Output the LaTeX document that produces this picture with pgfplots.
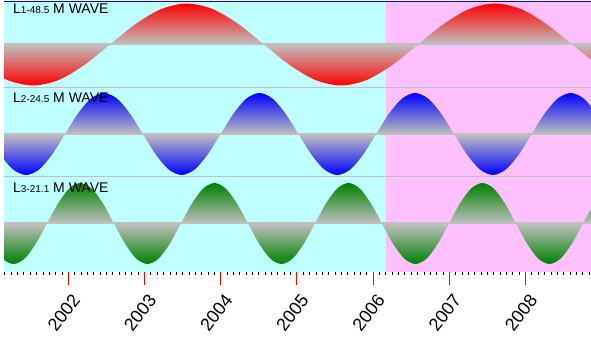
\documentclass[border=0pt]{standalone}
\usepackage{pgfplots}
\pgfplotsset{compat=1.18}
\usepackage{fontspec}
\setmainfont{Liberation Sans}
\definecolor{cyanbg}{RGB}{192,255,255}
\definecolor{pinkbg}{RGB}{255,192,255}
\definecolor{midgray}{RGB}{192,192,192}
\definecolor{dgreen}{RGB}{0,128,0}

\pgfplotsset{
  band/.style={x=76.2pt, y=1pt, xmin=2001.156, xmax=2008.86,
    axis line style={draw=none}, ticks=none, clip=true},
  bgc/.style={draw=none, fill=cyanbg},
  bgp/.style={draw=none, fill=pinkbg},
  wave/.style={draw=none, smooth, top color=#1, bottom color=#1, middle color=midgray},
  cline/.style={midgray, line width=2pt},
}
\newcommand{\bandlabel}[2]{{\fontsize{14}{14}\selectfont L}{\fontsize{10}{10}\selectfont #1-#2}{\fontsize{14}{14}\selectfont\ M WAVE}}

\begin{document}
\begin{tikzpicture}
\path[use as bounding box] (0,0) rectangle (591pt,348pt);

% ---- Band 1: L1 48.5 month wave (red)
\begin{axis}[band, name=a1, at={(4pt,260pt)}, anchor=south west, ymin=-43.5, ymax=42.5]
\addplot[bgc] coordinates {(2001,-60) (2001,60) (2006.167,60) (2006.167,-60)} -- cycle;
\addplot[bgp] coordinates {(2006.167,-60) (2006.167,60) (2009,60) (2009,-60)} -- cycle;
\addplot[wave=red] coordinates {
(2000.863,-20.5) (2001.200,-35.5) (2001.537,-41) (2001.873,-35.5) (2002.210,-20.5)
(2002.547,0) (2002.884,20.5) (2003.221,35.5) (2003.557,41) (2003.894,35.5)
(2004.231,20.5) (2004.568,0) (2004.905,-20.5) (2005.242,-35.5) (2005.578,-41)
(2005.915,-35.5) (2006.252,-20.5) (2006.589,0) (2006.926,20.5) (2007.262,35.5)
(2007.599,41) (2007.936,35.5) (2008.273,20.5) (2008.610,0) (2008.946,-20.5)
} \closedcycle;
\addplot[cline] coordinates {(2001,0) (2009,0)};
\node[anchor=base west, inner sep=0pt] at (axis description cs:0,1) [xshift=9pt, yshift=-12pt] {\bandlabel{1}{48.5}};
\end{axis}

% ---- Band 2: L2 24.5 month wave (blue)
\begin{axis}[band, name=a2, at={(4pt,171pt)}, anchor=south west, ymin=-43, ymax=46]
\addplot[bgc] coordinates {(2001,-60) (2001,60) (2006.167,60) (2006.167,-60)} -- cycle;
\addplot[bgp] coordinates {(2006.167,-60) (2006.167,60) (2009,60) (2009,-60)} -- cycle;
\addplot[wave=blue] coordinates {
(2000.936,0) (2001.106,-20.5) (2001.276,-35.5) (2001.447,-41) (2001.617,-35.5) (2001.787,-20.5)
(2001.957,0) (2002.127,20.5) (2002.297,35.5) (2002.467,41) (2002.638,35.5) (2002.808,20.5)
(2002.978,0) (2003.148,-20.5) (2003.318,-35.5) (2003.488,-41) (2003.658,-35.5) (2003.829,-20.5)
(2003.999,0) (2004.169,20.5) (2004.339,35.5) (2004.509,41) (2004.679,35.5) (2004.849,20.5)
(2005.020,0) (2005.190,-20.5) (2005.360,-35.5) (2005.530,-41) (2005.700,-35.5) (2005.870,-20.5)
(2006.040,0) (2006.211,20.5) (2006.381,35.5) (2006.551,41) (2006.721,35.5) (2006.891,20.5)
(2007.061,0) (2007.232,-20.5) (2007.402,-35.5) (2007.572,-41) (2007.742,-35.5) (2007.912,-20.5)
(2008.082,0) (2008.252,20.5) (2008.423,35.5) (2008.593,41) (2008.763,35.5) (2008.933,20.5)
} \closedcycle;
\addplot[cline] coordinates {(2001,0) (2009,0)};
\node[anchor=base west, inner sep=0pt] at (axis description cs:0,1) [xshift=9pt, yshift=-14.7pt] {\bandlabel{2}{24.5}};
\end{axis}

% ---- Band 3: L3 21.1 month wave (green) with the time axis
\begin{axis}[x=76.2pt, y=1pt, xmin=2001.156, xmax=2008.86, clip=true,
  name=a3, at={(4pt,77pt)}, anchor=south west, ymin=-47.5, ymax=46.5,
  axis x line*=bottom, axis y line=none,
  x axis line style={black, line width=1pt, -},
  xtick={2001,2002,2003,2004,2005,2006,2007,2008,2009},
  xticklabels={2001,2002,2003,2004,2005,2006,2007,2008,2009},
  minor x tick num=11,
  tick align=outside,
  major tick length=14pt, minor tick length=4pt,
  major tick style={red, line width=1pt},
  minor tick style={black, line width=0.8pt},
  xticklabel style={font=\fontsize{18}{18}\selectfont, xshift=10pt, yshift=-9pt, rotate=52, anchor=east},
]
\addplot[bgc] coordinates {(2001,-60) (2001,60) (2006.167,60) (2006.167,-60)} -- cycle;
\addplot[bgp] coordinates {(2006.167,-60) (2006.167,60) (2009,60) (2009,-60)} -- cycle;
\addplot[wave=dgreen] coordinates {
(2000.987,-20.25) (2001.134,-35.07) (2001.280,-40.5) (2001.427,-35.07) (2001.573,-20.25)
(2001.720,0) (2001.867,20.25) (2002.013,35.07) (2002.160,40.5) (2002.306,35.07) (2002.453,20.25)
(2002.599,0) (2002.746,-20.25) (2002.892,-35.07) (2003.039,-40.5) (2003.185,-35.07) (2003.332,-20.25)
(2003.478,0) (2003.625,20.25) (2003.771,35.07) (2003.918,40.5) (2004.064,35.07) (2004.211,20.25)
(2004.358,0) (2004.504,-20.25) (2004.651,-35.07) (2004.797,-40.5) (2004.944,-35.07) (2005.090,-20.25)
(2005.237,0) (2005.383,20.25) (2005.530,35.07) (2005.676,40.5) (2005.823,35.07) (2005.969,20.25)
(2006.116,0) (2006.262,-20.25) (2006.409,-35.07) (2006.555,-40.5) (2006.702,-35.07) (2006.848,-20.25)
(2006.995,0) (2007.141,20.25) (2007.288,35.07) (2007.435,40.5) (2007.581,35.07) (2007.728,20.25)
(2007.874,0) (2008.021,-20.25) (2008.167,-35.07) (2008.314,-40.5) (2008.460,-35.07) (2008.607,-20.25)
(2008.753,0) (2008.900,20.25)
} \closedcycle;
\addplot[cline] coordinates {(2001,0) (2009,0)};
\node[anchor=base west, inner sep=0pt] at (axis description cs:0,1) [xshift=9pt, yshift=-15.3pt] {\bandlabel{3}{21.1}};
\end{axis}

\draw[blue, line width=1pt] (a1.north west) -- (a1.north east);
\draw[midgray, line width=1pt] (a1.south west) -- (a1.south east);
\draw[midgray, line width=1pt] (a2.south west) -- (a2.south east);
\end{tikzpicture}
\end{document}
